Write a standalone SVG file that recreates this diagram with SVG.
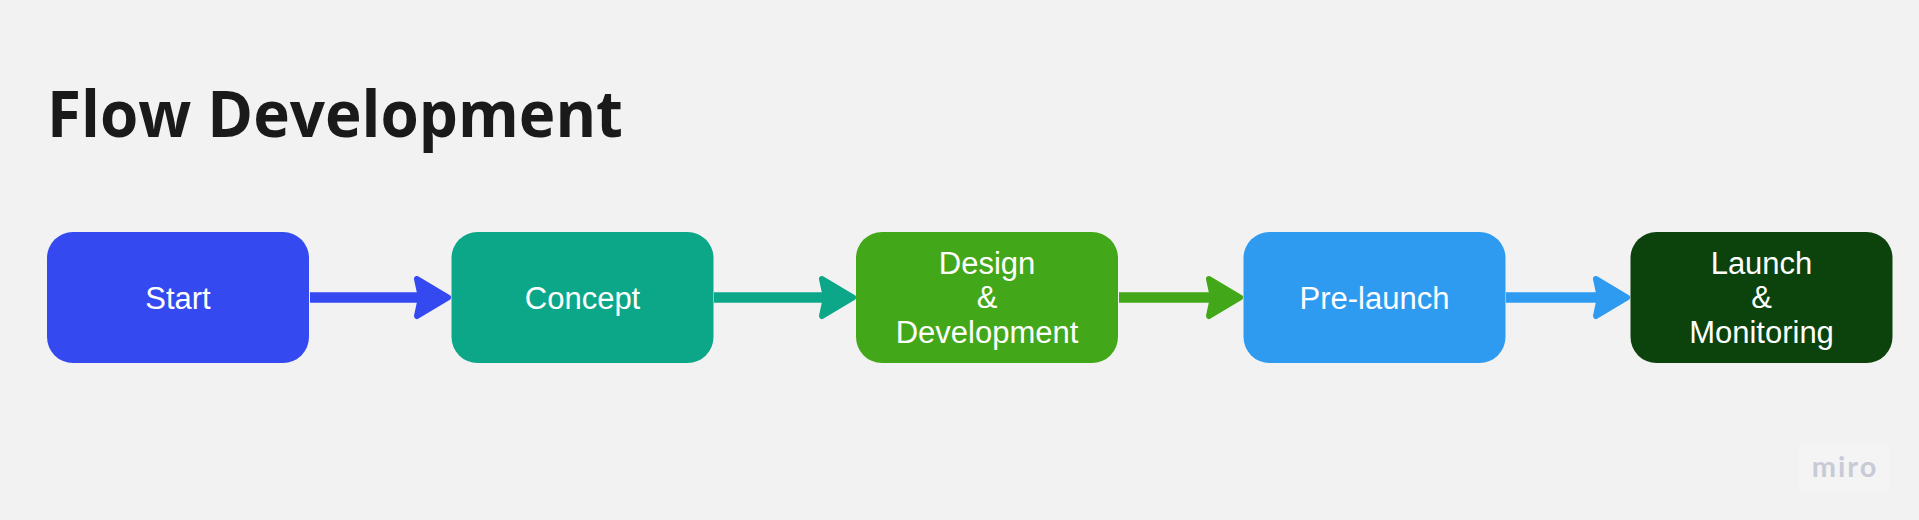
<svg xmlns="http://www.w3.org/2000/svg" width="1919" height="520" viewBox="0 0 1919 520">
<style>
.lbl{font-family:"Liberation Sans",Arial,sans-serif;font-size:31px;fill:#fff;text-anchor:middle}
.title{font-family:"Open Sans","Noto Sans",sans-serif;font-weight:700;font-size:64px;fill:#1a1a1a}
.shaft{stroke-width:10.500;fill:none}
.head{stroke-width:6;stroke-linejoin:round}
</style>
<rect width="1919" height="520" fill="#f2f2f2"/>
<text id="title" class="title" x="47" y="137" textLength="576" lengthAdjust="spacingAndGlyphs">Flow Development</text>
<g id="connectors">
<g fill="#3549f0" stroke="#3549f0"><path class="shaft" d="M310 297.500H430"/><path class="head" d="M417 279L448 297.500L417 316L421 297.500Z"/></g>
<g fill="#0ca789" stroke="#0ca789"><path class="shaft" d="M714 297.500H834"/><path class="head" d="M822 279L853 297.500L822 316L826 297.500Z"/></g>
<g fill="#43a819" stroke="#43a819"><path class="shaft" d="M1119 297.500H1225"/><path class="head" d="M1209 279L1240 297.500L1209 316L1213 297.500Z"/></g>
<g fill="#2e9bf0" stroke="#2e9bf0"><path class="shaft" d="M1506 297.500H1612"/><path class="head" d="M1596 279L1627 297.500L1596 316L1600 297.500Z"/></g>
</g>
<g id="node-start"><rect x="47" y="232" width="262" height="131" rx="26" fill="#3549f0"/><text class="lbl" x="178" y="309">Start</text></g>
<g id="node-concept"><rect x="451.500" y="232" width="262" height="131" rx="26" fill="#0ca789"/><text class="lbl" x="582.500" y="309">Concept</text></g>
<g id="node-design"><rect x="856" y="232" width="262" height="131" rx="26" fill="#43a819"/><text class="lbl" x="987" y="273.500">Design</text><text class="lbl" x="987" y="308">&amp;</text><text class="lbl" x="987" y="342.500">Development</text></g>
<g id="node-prelaunch"><rect x="1243.500" y="232" width="262" height="131" rx="26" fill="#2e9bf0"/><text class="lbl" x="1374.500" y="309">Pre-launch</text></g>
<g id="node-launch"><rect x="1630.500" y="232" width="262" height="131" rx="26" fill="#0c430c"/><text class="lbl" x="1761.500" y="273.500">Launch</text><text class="lbl" x="1761.500" y="308">&amp;</text><text class="lbl" x="1761.500" y="342.500">Monitoring</text></g>
<g id="watermark"><rect x="1799" y="443" width="90" height="50" fill="#f4f4f4"/><text x="1845" y="477" text-anchor="middle" font-family="Lato,'Open Sans',sans-serif" font-weight="700" font-size="29" letter-spacing="2" fill="#c8cad6">miro</text></g>
</svg>
